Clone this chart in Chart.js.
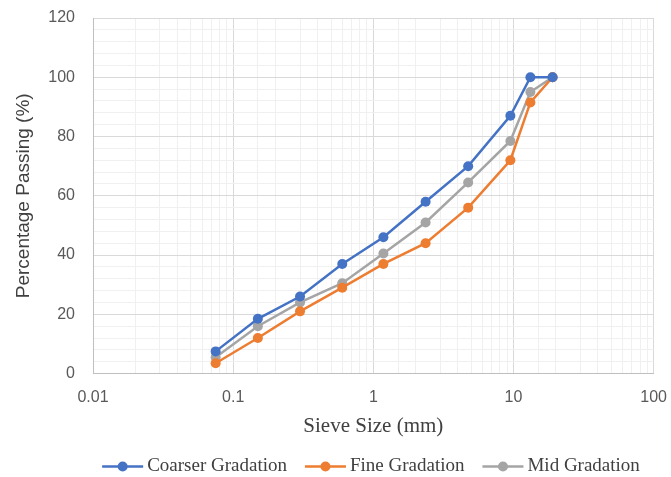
<!DOCTYPE html>
<html>
<head>
<meta charset="utf-8">
<script src="https://cdn.jsdelivr.net/npm/chart.js@4.4.1/dist/chart.umd.min.js"></script>
<style>
  html, body { margin: 0; padding: 0; background: #fff; }
  #wrap { width: 671px; height: 477px; }
</style>
</head>
<body>
<div id="wrap"><canvas id="gradationChart" width="671" height="477"></canvas></div>
<script>
const sieveSizes = [0.075, 0.15, 0.3, 0.6, 1.18, 2.36, 4.75, 9.5, 13.2, 19];
const coarser = [7.5, 18.5, 26, 37, 46, 58, 70, 87, 100, 100];
const fine = [3.5, 12, 21, 29, 37, 44, 56, 72, 91.5, 100];
const mid = [5.5, 16, 24, 30.5, 40.5, 51, 64.5, 78.5, 95, 100];
const xTickLabels = [0.01, 0.1, 1, 10, 100];
const yTickLabels = [0, 20, 40, 60, 80, 100, 120];

const seriesNames = ['Coarser Gradation', 'Fine Gradation', 'Mid Gradation'];
const seriesColors = ['#4472C4', '#ED7D31', '#A5A5A5'];

function toPoints(values) {
    return sieveSizes.map((s, i) => ({ x: s, y: values[i] }));
}

function isDecade(v) {
    const l = Math.log10(v);
    return Math.abs(l - Math.round(l)) < 1e-6;
}

const legendShift = 24;

// legend keys drawn as line + dot, like the spreadsheet legend
const legendLines = {
    id: 'legendLines',
    afterLayout(chart) {
        // the legend sits a little right of centre in the original
        const legend = chart.legend;
        if (!legend || !legend.legendHitBoxes) return;
        legend.left += legendShift;
        legend.right += legendShift;
        legend.legendHitBoxes.forEach(box => { box.left += legendShift; });
    },
    afterDraw(chart) {
        const legend = chart.legend;
        if (!legend || !legend.legendHitBoxes) return;
        const g = chart.ctx;
        legend.legendHitBoxes.forEach((box, i) => {
            const color = seriesColors[i];
            const x0 = box.left + 15;
            const y = box.top + box.height / 2;
            g.save();
            g.strokeStyle = color;
            g.lineWidth = 2.5;
            g.beginPath();
            g.moveTo(x0, y);
            g.lineTo(x0 + 41, y);
            g.stroke();
            g.fillStyle = color;
            g.beginPath();
            g.arc(x0 + 20.5, y, 5, 0, Math.PI * 2);
            g.fill();
            g.restore();
        });
    }
};

const allSeries = [coarser, fine, mid];
const datasets = allSeries.map((vals, i) => ({
    label: seriesNames[i],
    data: toPoints(vals),
    borderColor: seriesColors[i],
    backgroundColor: seriesColors[i],
    borderWidth: 2.5,
    pointRadius: 5,
    pointHoverRadius: 5,
    pointBorderWidth: 0,
    tension: 0
}));

const serif = '"Liberation Serif", "Times New Roman", serif';
const sans = '"Liberation Sans", Arial, sans-serif';

new Chart(document.getElementById('gradationChart').getContext('2d'), {
    type: 'line',
    data: { datasets: datasets },
    plugins: [legendLines],
    options: {
        responsive: false,
        animation: false,
        layout: { padding: { left: 8, right: 0, top: 18, bottom: -9 } },
        plugins: {
            tooltip: { enabled: false },
            legend: {
                position: 'bottom',
                labels: {
                    boxWidth: 50.5,
                    boxHeight: 12,
                    padding: 3,
                    color: '#404040',
                    font: { family: serif, size: 19 },
                    generateLabels: chart => chart.data.datasets.map((ds, i) => ({
                        text: ds.label,
                        fillStyle: 'rgba(0,0,0,0)',
                        strokeStyle: 'rgba(0,0,0,0)',
                        lineWidth: 0,
                        fontColor: '#404040',
                        datasetIndex: i
                    }))
                }
            }
        },
        scales: {
            x: {
                type: 'logarithmic',
                min: 0.01,
                max: 100,
                border: { color: '#BFBFBF' },
                grid: {
                    color: ctx => isDecade(ctx.tick.value) ? '#D9D9D9' : '#F0F0F0',
                    lineWidth: 1,
                    drawTicks: true,
                    tickLength: 10,
                    tickColor: 'rgba(0,0,0,0)'
                },
                ticks: {
                    autoSkip: false,
                    maxRotation: 0,
                    padding: 4,
                    color: '#595959',
                    font: { family: sans, size: 16 },
                    callback: v => xTickLabels.includes(Number(v.toPrecision(6))) ? String(Number(v.toPrecision(6))) : ''
                },
                title: {
                    display: true,
                    text: 'Sieve Size (mm)',
                    color: '#404040',
                    font: { family: serif, size: 21 },
                    padding: { top: 3, bottom: 15 }
                }
            },
            y: {
                min: 0,
                max: 120,
                border: { color: '#BFBFBF' },
                afterFit: scale => { scale.width = 85; },
                grid: {
                    color: ctx => ctx.tick.value % 20 === 0 ? '#D9D9D9' : '#F0F0F0',
                    lineWidth: 1,
                    drawTicks: true,
                    tickLength: 16,
                    tickColor: 'rgba(0,0,0,0)'
                },
                ticks: {
                    stepSize: 4,
                    autoSkip: false,
                    padding: 2,
                    color: '#595959',
                    font: { family: sans, size: 16 },
                    callback: v => yTickLabels.includes(v) ? String(v) : ''
                },
                title: {
                    display: true,
                    text: 'Percentage Passing (%)',
                    color: '#404040',
                    font: { family: sans, size: 19 },
                    padding: { bottom: 2 }
                }
            }
        }
    }
});
</script>
</body>
</html>
